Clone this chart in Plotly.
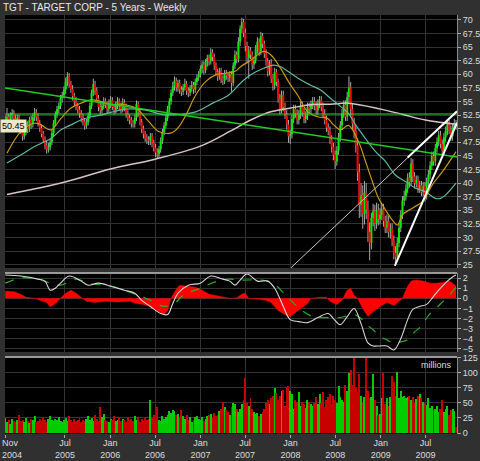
import pandas as pd
import plotly.graph_objects as go
from plotly.subplots import make_subplots

# ---------------- data ----------------
start_date = "2004-11-01"
n_weeks = 262
dates = pd.date_range(start_date, periods=n_weeks, freq="7D")

open_ = [
    51.0, 51.6, 52.2, 51.3, 52.5, 52.9, 51.8, 51.2, 52.0, 51.0,
    49.6, 48.6, 49.4, 50.6, 50.0, 51.6, 50.8, 52.1, 53.0, 52.2,
    51.0, 50.1, 49.0, 48.0, 47.0, 46.2, 46.6, 47.6, 49.2, 51.0,
    52.6, 53.6, 54.2, 55.6, 56.2, 57.2, 58.6, 59.6, 58.2, 57.3,
    56.0, 55.0, 54.2, 53.5, 52.8, 52.0, 51.3, 50.6, 51.2, 52.4,
    54.2, 56.6, 58.2, 57.0, 55.6, 54.0, 53.4, 54.2, 55.0, 54.4,
    53.6, 54.6, 55.2, 54.0, 53.4, 54.4, 55.0, 54.2, 53.6, 54.8,
    54.0, 52.8, 52.0, 51.6, 51.0, 50.9, 52.0, 54.6, 53.0, 51.2,
    50.0, 49.0, 48.4, 48.0, 47.8, 48.6, 47.4, 46.5, 45.6, 45.3,
    46.2, 47.8, 49.4, 50.6, 52.0, 53.6, 55.0, 56.6, 57.8, 58.8,
    57.6, 58.4, 57.2, 56.8, 57.6, 58.2, 57.0, 56.6, 57.4, 58.0,
    57.2, 58.6, 59.4, 60.0, 61.0, 61.8, 60.8, 62.2, 63.0, 62.4,
    64.0, 63.2, 61.6, 60.4, 59.6, 60.6, 59.2, 58.8, 60.2, 59.8,
    59.4, 60.0, 58.4, 61.6, 63.6, 62.8, 66.0, 68.4, 69.6, 67.6,
    65.2, 63.0, 64.4, 63.6, 61.8, 62.6, 64.6, 66.0, 64.2, 67.0,
    65.6, 63.8, 62.4, 60.6, 62.0, 59.2, 58.0, 60.4, 58.6, 55.6,
    53.6, 56.2, 54.0, 52.6, 50.8, 48.6, 49.0, 51.8, 53.6, 52.8,
    51.6, 52.6, 54.2, 53.0, 51.8, 52.4, 54.0, 53.6, 54.4, 55.0,
    54.2, 53.4, 54.6, 55.2, 54.0, 52.8, 51.6, 50.2, 49.6, 48.0,
    46.6, 45.2, 44.0, 46.0, 48.4, 50.6, 52.8, 54.4, 52.2, 55.8,
    57.6, 53.6, 51.0, 49.6, 47.0, 42.0, 36.0, 37.8, 34.4, 38.2,
    35.2, 31.0, 29.0, 33.6, 34.8, 32.6, 35.0, 33.4, 34.2, 35.2,
    33.0, 31.8, 33.0, 31.0, 31.6, 29.4, 27.2, 26.4, 29.0, 31.8,
    34.2, 36.8, 37.6, 39.0, 41.0, 40.2, 43.6, 41.2, 40.0, 40.6,
    39.0, 39.6, 38.4, 39.4, 37.8, 40.2, 41.6, 43.2, 45.0, 44.0,
    46.4, 47.6, 48.8, 47.2, 46.0, 48.4, 49.6, 50.8, 49.8, 48.6,
    50.2, 51.0,
]
high = [
    52.4, 53.8, 52.8, 53.0, 53.6, 53.4, 52.6, 52.6, 52.6, 51.6,
    50.2, 50.0, 51.2, 51.4, 52.2, 52.4, 52.8, 53.8, 53.6, 52.8,
    51.6, 50.8, 49.6, 48.6, 47.8, 47.4, 48.2, 49.8, 51.6, 53.2,
    54.2, 54.8, 56.2, 56.8, 57.8, 59.4, 60.4, 60.2, 58.8, 58.0,
    56.6, 55.8, 54.8, 54.2, 53.4, 52.8, 52.0, 51.8, 53.0, 54.8,
    57.2, 59.2, 58.8, 57.6, 56.2, 54.8, 55.0, 55.8, 55.6, 55.0,
    55.4, 56.0, 55.8, 54.6, 55.0, 55.8, 55.6, 54.8, 55.6, 55.4,
    54.6, 53.4, 52.6, 52.2, 51.6, 52.6, 55.2, 55.0, 53.6, 51.8,
    50.6, 49.6, 49.0, 48.6, 49.2, 49.2, 48.0, 47.2, 46.4, 46.8,
    48.4, 50.0, 51.2, 52.6, 54.2, 55.6, 57.2, 58.6, 59.6, 59.4,
    59.0, 59.0, 57.8, 58.2, 59.2, 58.8, 57.6, 58.0, 58.8, 58.6,
    59.2, 60.0, 60.6, 61.6, 62.4, 62.4, 62.8, 63.6, 63.6, 64.8,
    64.6, 63.8, 62.2, 61.0, 61.2, 61.2, 59.8, 60.8, 60.8, 60.4,
    60.6, 60.6, 62.2, 64.4, 64.2, 66.8, 69.0, 70.4, 70.2, 68.4,
    66.0, 65.2, 65.0, 64.2, 63.2, 65.4, 66.8, 66.6, 67.8, 67.6,
    66.2, 64.6, 63.0, 62.6, 62.8, 60.0, 61.2, 61.0, 59.2, 56.4,
    57.0, 57.0, 54.8, 53.4, 51.6, 49.8, 52.6, 54.4, 54.4, 53.6,
    53.4, 55.0, 55.0, 53.8, 53.2, 54.8, 54.8, 55.2, 55.8, 55.8,
    55.0, 55.4, 56.0, 56.0, 54.8, 53.6, 52.4, 51.0, 50.4, 48.8,
    47.4, 46.0, 46.8, 49.2, 51.4, 53.6, 55.2, 55.2, 56.8, 59.6,
    58.6, 54.6, 52.0, 50.6, 48.2, 43.6, 40.0, 39.6, 40.4, 40.0,
    36.8, 32.8, 34.6, 36.2, 36.0, 36.4, 36.2, 35.4, 36.4, 36.2,
    34.0, 34.2, 34.0, 32.6, 32.6, 30.4, 28.4, 30.0, 32.6, 35.0,
    37.6, 38.6, 39.8, 41.8, 42.0, 44.6, 44.4, 42.0, 41.4, 41.4,
    40.4, 40.4, 40.2, 40.2, 41.0, 42.4, 44.0, 45.8, 45.8, 47.2,
    48.4, 49.6, 49.6, 48.0, 49.2, 50.4, 51.6, 51.6, 50.6, 51.0,
    51.8, 51.6,
]
low = [
    50.4, 51.0, 50.6, 50.8, 51.8, 51.2, 50.4, 50.6, 50.2, 49.0,
    47.8, 48.0, 48.8, 49.2, 49.4, 50.0, 50.2, 51.4, 51.4, 50.4,
    49.4, 48.4, 47.4, 46.2, 45.4, 45.6, 46.0, 47.0, 48.6, 50.4,
    52.0, 52.8, 53.6, 54.8, 55.6, 56.4, 57.8, 57.6, 56.6, 55.2,
    54.2, 53.4, 52.8, 52.0, 51.2, 50.6, 49.8, 50.0, 50.6, 51.8,
    53.6, 56.0, 56.2, 55.0, 53.2, 52.6, 52.8, 53.6, 53.8, 52.8,
    53.0, 53.8, 53.4, 52.6, 52.8, 53.6, 53.4, 52.8, 53.0, 53.2,
    52.0, 51.4, 50.8, 50.2, 50.2, 50.2, 51.4, 52.2, 50.6, 49.2,
    48.2, 47.6, 47.2, 47.0, 47.0, 46.6, 45.8, 44.8, 44.6, 44.8,
    45.6, 47.2, 48.8, 50.0, 51.4, 53.0, 54.4, 56.0, 57.0, 56.8,
    56.8, 56.4, 56.0, 56.2, 57.0, 56.2, 55.8, 56.0, 56.8, 56.4,
    56.6, 58.0, 58.8, 59.4, 60.2, 60.0, 60.2, 61.4, 61.6, 61.8,
    62.4, 60.8, 59.8, 58.8, 59.0, 58.4, 58.0, 58.2, 59.0, 58.6,
    58.6, 56.8, 57.8, 61.0, 62.0, 62.2, 65.2, 67.6, 66.8, 64.2,
    62.0, 59.2, 62.8, 60.8, 61.0, 62.0, 63.8, 63.4, 63.6, 64.8,
    63.0, 61.6, 59.6, 59.8, 58.4, 57.0, 57.2, 57.8, 54.8, 52.6,
    52.8, 53.2, 51.8, 49.8, 47.4, 47.2, 48.2, 51.0, 52.0, 50.8,
    50.8, 51.8, 52.2, 51.0, 51.0, 51.6, 52.8, 52.8, 53.6, 53.4,
    52.6, 52.6, 53.8, 53.2, 52.0, 50.8, 49.4, 48.8, 47.2, 45.6,
    44.2, 42.6, 43.2, 45.2, 47.6, 49.8, 52.0, 51.4, 51.4, 54.8,
    52.4, 49.8, 48.2, 45.6, 40.4, 33.6, 33.8, 31.6, 32.4, 33.4,
    29.2, 25.8, 27.8, 32.0, 31.2, 31.6, 32.2, 32.4, 33.2, 32.0,
    30.8, 30.8, 30.0, 29.8, 28.4, 26.0, 25.0, 25.8, 28.2, 31.0,
    33.4, 35.8, 36.8, 38.2, 39.2, 39.4, 40.2, 39.0, 39.2, 38.2,
    38.2, 37.6, 37.6, 36.6, 37.0, 39.4, 40.8, 42.4, 43.2, 43.2,
    45.6, 46.8, 46.4, 45.2, 45.4, 47.6, 48.8, 49.0, 47.8, 47.8,
    49.6, 49.8,
]
close = [
    51.6, 52.2, 51.3, 52.5, 52.9, 51.8, 51.2, 52.0, 51.0, 49.6,
    48.6, 49.4, 50.6, 50.0, 51.6, 50.8, 52.1, 53.0, 52.2, 51.0,
    50.1, 49.0, 48.0, 47.0, 46.2, 46.6, 47.6, 49.2, 51.0, 52.6,
    53.6, 54.2, 55.6, 56.2, 57.2, 58.6, 59.6, 58.2, 57.3, 56.0,
    55.0, 54.2, 53.5, 52.8, 52.0, 51.3, 50.6, 51.2, 52.4, 54.2,
    56.6, 58.2, 57.0, 55.6, 54.0, 53.4, 54.2, 55.0, 54.4, 53.6,
    54.6, 55.2, 54.0, 53.4, 54.4, 55.0, 54.2, 53.6, 54.8, 54.0,
    52.8, 52.0, 51.6, 51.0, 50.9, 52.0, 54.6, 53.0, 51.2, 50.0,
    49.0, 48.4, 48.0, 47.8, 48.6, 47.4, 46.5, 45.6, 45.3, 46.2,
    47.8, 49.4, 50.6, 52.0, 53.6, 55.0, 56.6, 57.8, 58.8, 57.6,
    58.4, 57.2, 56.8, 57.6, 58.2, 57.0, 56.6, 57.4, 58.0, 57.2,
    58.6, 59.4, 60.0, 61.0, 61.8, 60.8, 62.2, 63.0, 62.4, 64.0,
    63.2, 61.6, 60.4, 59.6, 60.6, 59.2, 58.8, 60.2, 59.8, 59.4,
    60.0, 58.4, 61.6, 63.6, 62.8, 66.0, 68.4, 69.6, 67.6, 65.2,
    63.0, 64.4, 63.6, 61.8, 62.6, 64.6, 66.0, 64.2, 67.0, 65.6,
    63.8, 62.4, 60.6, 62.0, 59.2, 58.0, 60.4, 58.6, 55.6, 53.6,
    56.2, 54.0, 52.6, 50.8, 48.6, 49.0, 51.8, 53.6, 52.8, 51.6,
    52.6, 54.2, 53.0, 51.8, 52.4, 54.0, 53.6, 54.4, 55.0, 54.2,
    53.4, 54.6, 55.2, 54.0, 52.8, 51.6, 50.2, 49.6, 48.0, 46.6,
    45.2, 44.0, 46.0, 48.4, 50.6, 52.8, 54.4, 52.2, 55.8, 57.6,
    53.6, 51.0, 49.6, 47.0, 42.0, 36.0, 37.8, 34.4, 38.2, 35.2,
    31.0, 29.0, 33.6, 34.8, 32.6, 35.0, 33.4, 34.2, 35.2, 33.0,
    31.8, 33.0, 31.0, 31.6, 29.4, 27.2, 26.4, 29.0, 31.8, 34.2,
    36.8, 37.6, 39.0, 41.0, 40.2, 43.6, 41.2, 40.0, 40.6, 39.0,
    39.6, 38.4, 39.4, 37.8, 40.2, 41.6, 43.2, 45.0, 44.0, 46.4,
    47.6, 48.8, 47.2, 46.0, 48.4, 49.6, 50.8, 49.8, 48.6, 50.2,
    51.0, 50.45,
]
volume_m = [
    25, 18, 22, 15, 24, 20, 18, 22, 30, 20,
    22, 18, 25, 20, 16, 24, 22, 28, 18, 20,
    24, 20, 26, 22, 18, 24, 28, 22, 20, 24,
    22, 26, 20, 18, 22, 25, 20, 28, 22, 18,
    24, 20, 22, 26, 18, 22, 20, 24, 28, 22,
    25, 20, 30, 24, 20, 43, 26, 32, 22, 20,
    18, 24, 22, 28, 20, 22, 26, 20, 24, 22,
    18, 26, 22, 24, 20, 28, 22, 26, 18, 24,
    20, 26, 22, 24, 55, 26, 30, 24, 43, 22,
    20, 28, 24, 26, 30, 36, 34, 38, 36, 30,
    32, 26, 38, 28, 24, 30, 22, 26, 18, 22,
    26, 28, 24, 22, 26, 20, 24, 28, 30, 32,
    26, 34, 28, 30, 36, 40, 52, 44, 38, 35,
    30, 44, 50, 48, 40, 35, 40, 48, 55, 92,
    50, 45, 58, 40, 35, 32, 34, 28, 32, 35,
    40, 50, 55, 48, 58, 62, 75, 66, 55, 62,
    70, 72, 45, 75, 78, 70, 65, 40, 55, 52,
    68, 45, 52, 48, 42, 55, 52, 48, 45, 50,
    60, 48, 65, 50, 68, 44, 55, 60, 65, 48,
    62, 55, 50, 78, 60, 55, 52, 80, 70, 100,
    104, 80, 124, 75, 68, 98, 62, 50, 60, 126,
    70, 58, 60, 98, 55, 45, 30, 32, 58, 100,
    48, 58, 45, 60, 95, 85, 62, 102, 58, 70,
    60, 62, 58, 60, 62, 55, 60, 52, 56, 62,
    64, 58, 52, 50, 46, 58, 42, 45, 38, 40,
    45, 35, 40, 55, 35, 40, 45, 30, 38, 40,
    36, 10,
]

# moving averages
ma_short_dates = ["2004-11-08", "2005-01-04", "2005-02-26", "2005-03-26", "2005-05-05", "2005-06-15",
                  "2005-07-25", "2005-09-04", "2005-10-14", "2005-11-24", "2006-01-03", "2006-02-13",
                  "2006-04-14", "2006-06-06", "2006-07-16", "2006-09-03", "2006-10-01", "2006-11-03",
                  "2006-12-13", "2007-01-23", "2007-03-04", "2007-04-14", "2007-05-24", "2007-06-13",
                  "2007-07-24", "2007-09-14", "2007-10-13", "2007-11-22", "2008-01-02", "2008-01-30",
                  "2008-03-11", "2008-04-20", "2008-05-30", "2008-06-24", "2008-07-22", "2008-08-23",
                  "2008-10-03", "2008-10-31", "2008-11-28", "2008-12-23", "2009-01-20", "2009-02-17",
                  "2009-03-10", "2009-03-30", "2009-05-09", "2009-06-19", "2009-07-29", "2009-09-08",
                  "2009-11-02"]
ma_short_vals = [45.5, 49.5, 51.0, 50.7, 49.8, 51.9,
                 53.8, 54.7, 55.3, 55.0, 54.4, 54.5,
                 53.8, 51.3, 49.5, 49.2, 50.1, 52.5,
                 56.2, 58.7, 59.9, 60.2, 60.6, 61.4,
                 62.6, 64.2, 63.6, 61.1, 58.0, 56.2,
                 53.1, 52.2, 51.9, 50.7, 49.8, 50.6,
                 47.6, 44.0, 40.3, 37.2, 35.1, 33.2,
                 32.3, 34.2, 35.4, 36.6, 39.7, 42.1,
                 45.8]

ma_mid_dates = ["2004-11-08", "2005-01-04", "2005-02-26", "2005-05-05", "2005-06-15", "2005-07-25",
                "2005-09-04", "2005-10-14", "2005-11-24", "2006-01-03", "2006-03-05", "2006-05-25",
                "2006-08-02", "2006-10-05", "2006-12-13", "2007-02-20", "2007-04-26", "2007-06-13",
                "2007-07-24", "2007-09-14", "2007-10-25", "2007-11-22", "2008-01-02", "2008-02-11",
                "2008-03-23", "2008-05-02", "2008-06-11", "2008-07-22", "2008-08-23", "2008-09-21",
                "2008-10-31", "2008-12-11", "2009-01-20", "2009-03-01", "2009-04-11", "2009-05-21",
                "2009-07-01", "2009-08-10", "2009-08-31", "2009-09-20", "2009-11-02"]
ma_mid_vals = [43.7, 45.2, 46.7, 48.2, 49.8, 50.7,
               51.6, 52.2, 52.5, 53.0, 53.6, 53.4,
               52.6, 52.6, 53.1, 54.7, 56.2, 58.4,
               59.9, 61.1, 61.7, 61.4, 60.2, 59.0,
               58.0, 57.1, 55.6, 54.1, 52.8, 50.7,
               48.2, 45.8, 44.0, 41.5, 40.3, 39.1,
               38.4, 37.2, 37.2, 37.8, 40.0]

ma_long_dates = ["2004-11-08", "2005-07-01", "2006-01-01", "2006-07-01", "2007-01-01", "2007-05-04",
                 "2007-07-24", "2007-10-13", "2008-01-02", "2008-03-23", "2008-06-11", "2008-08-23",
                 "2009-01-02", "2009-04-01", "2009-07-01", "2009-11-02"]
ma_long_vals = [37.9, 40.2, 42.6, 44.4, 46.8, 49.6,
                51.6, 53.1, 53.8, 54.4, 54.5, 54.7,
                53.6, 52.6, 51.6, 50.8]

# MACD panel values (week index into dates, value)
macd_weeks = [0, 9, 19, 23, 26, 29, 32, 37, 44, 48, 54, 61, 69, 75, 79, 84, 90, 94, 97, 100,
              106, 113, 119, 126, 130, 133, 136, 140, 146, 152, 156, 161, 165, 170, 175, 181,
              187, 190, 194, 198, 202, 206, 210, 213, 217, 221, 225, 229, 233, 236, 240, 244,
              248, 252, 256, 259, 261]
macd_vals = [2.3, 2.2, 1.9, 1.7, 0.8, 1.0, 1.5, 2.2, 1.7, 1.3, 1.5, 1.2, 0.8, 0.5, -0.2, -0.8,
             -1.5, -1.6, -0.5, 0.5, 1.3, 1.5, 2.2, 1.9, 1.7, 1.3, 1.8, 2.4, 1.7, 1.7, 1.0, -0.8,
             -2.1, -2.3, -2.4, -1.9, -1.5, -2.0, -2.6, -1.8, -1.0, -2.5, -4.4, -4.7, -4.7, -4.7,
             -5.1, -4.0, -2.1, -1.1, -0.8, -0.6, 0.2, 1.0, 1.7, 2.1, 2.3]

signal_weeks = [0, 9, 19, 26, 32, 41, 48, 61, 69, 77, 84, 92, 98, 103, 113, 123, 130, 136, 148,
                155, 163, 171, 178, 187, 194, 202, 206, 210, 213, 217, 221, 225, 229, 233, 236,
                241, 245, 250, 254, 258, 261]
signal_vals = [1.5, 2.0, 1.9, 1.5, 1.3, 1.9, 1.5, 1.2, 0.8, 0.3, -0.2, -0.8, -0.5, 0.3, 1.0, 1.7,
               1.9, 1.8, 1.8, 1.5, 0.2, -1.1, -1.8, -1.9, -1.9, -1.6, -2.0, -2.7, -3.1, -3.8, -4.1,
               -4.5, -4.3, -4.1, -3.5, -2.7, -1.7, -0.9, -0.2, 0.5, 1.1]

hist_weeks = [0, 5, 9, 12, 17, 20, 24, 26, 29, 32, 35, 38, 41, 44, 47, 52, 58, 65, 72, 76, 80,
              84, 88, 92, 94, 96, 99, 101, 105, 110, 114, 118, 124, 130, 134, 137, 139, 141, 147,
              151, 154, 158, 163, 165, 168, 172, 175, 177, 182, 186, 188, 192, 195, 198, 200, 202,
              204, 207, 210, 213, 217, 221, 225, 228, 230, 233, 235, 238, 242, 246, 250, 254, 257,
              259, 261]
hist_vals = [0.7, 0.65, 0.4, 0.1, 0.0, -0.15, -0.4, -0.85, -0.5, 0.0, 0.5, 0.8, 0.5, 0.1, -0.3,
             -0.4, -0.3, -0.35, -0.3, -0.5, -0.6, -0.8, -1.2, -1.6, -1.2, 0.0, 0.9, 1.3, 1.2, 1.1,
             0.8, 0.4, 0.2, 0.0, 0.05, 0.4, 0.5, 0.0, -0.1, -0.2, -0.4, -1.2, -1.7, -1.8, -1.4,
             -0.9, -0.5, 0.0, 0.1, 0.1, -0.3, -0.6, -0.2, 0.8, 1.0, 0.3, 0.0, -1.0, -1.8, -1.3,
             -0.8, -0.4, -0.7, -0.3, 0.0, 1.2, 1.7, 1.8, 1.7, 1.5, 1.5, 1.6, 1.7, 1.5, 1.2]

# analyst trend lines (date, price)
trend_flat_dates = ["2004-10-31", "2009-11-06"]
trend_flat_vals = [52.7, 52.7]
trend_down_dates = ["2004-10-31", "2009-11-06"]
trend_down_vals = [57.5, 44.8]
trend_long_dates = ["2008-01-02", "2009-11-06"]
trend_long_vals = [24.4, 53.2]
wedge_top_dates = ["2009-04-20", "2009-11-06"]
wedge_top_vals = [44.7, 53.2]
wedge_bot_dates = ["2009-02-27", "2009-11-06"]
wedge_bot_vals = [24.8, 51.1]

tick_dates = ["2004-11-01", "2005-07-01", "2006-01-01", "2006-07-01", "2007-01-01",
              "2007-07-01", "2008-01-01", "2008-07-01", "2009-01-01", "2009-07-01"]
tick_text = ["Nov<br>2004", "Jul<br>2005", "Jan<br>2006", "Jul<br>2006", "Jan<br>2007",
             "Jul<br>2007", "Jan<br>2008", "Jul<br>2008", "Jan<br>2009", "Jul<br>2009"]

title_text = "TGT - TARGET CORP - 5 Years - Weekly"

# ---------------- figure ----------------
fig = make_subplots(rows=3, cols=1, shared_xaxes=True, vertical_spacing=0.01)

up = [c >= o for o, c in zip(open_, close)]

# wicks
wx, wy = [], []
for d, h, l in zip(dates, high, low):
    wx += [d, d, None]
    wy += [l, h, None]
fig.add_trace(go.Scatter(x=wx, y=wy, mode="lines", line=dict(color="#a8a8a8", width=1),
                         hoverinfo="skip"), row=1, col=1)

# bodies
for flag, col in [(True, "#00f000"), (False, "#ff0000")]:
    bx, by = [], []
    for d, o, c, u in zip(dates, open_, close, up):
        if u == flag:
            lo, hi = min(o, c), max(o, c)
            if hi - lo < 0.15:
                hi = lo + 0.15
            bx += [d, d, None]
            by += [lo, hi, None]
    fig.add_trace(go.Scatter(x=bx, y=by, mode="lines", line=dict(color=col, width=2),
                             hoverinfo="skip"), row=1, col=1)

# moving averages
fig.add_trace(go.Scatter(x=ma_long_dates, y=ma_long_vals, mode="lines",
                         line=dict(color="#d8c4c4", width=1.5, shape="spline")), row=1, col=1)
fig.add_trace(go.Scatter(x=ma_mid_dates, y=ma_mid_vals, mode="lines",
                         line=dict(color="#5fb8a2", width=1.2, shape="spline")), row=1, col=1)
fig.add_trace(go.Scatter(x=ma_short_dates, y=ma_short_vals, mode="lines",
                         line=dict(color="#c89a10", width=1.2, shape="spline")), row=1, col=1)

# trend lines
fig.add_trace(go.Scatter(x=trend_flat_dates, y=trend_flat_vals, mode="lines",
                         line=dict(color="#33dd33", width=1)), row=1, col=1)
fig.add_trace(go.Scatter(x=trend_down_dates, y=trend_down_vals, mode="lines",
                         line=dict(color="#22cc22", width=1.5)), row=1, col=1)
fig.add_trace(go.Scatter(x=trend_long_dates, y=trend_long_vals, mode="lines",
                         line=dict(color="#c8c8c8", width=1)), row=1, col=1)
fig.add_trace(go.Scatter(x=wedge_top_dates, y=wedge_top_vals, mode="lines",
                         line=dict(color="#ffffff", width=2)), row=1, col=1)
fig.add_trace(go.Scatter(x=wedge_bot_dates, y=wedge_bot_vals, mode="lines",
                         line=dict(color="#ffffff", width=2)), row=1, col=1)

# MACD panel
fig.add_trace(go.Scatter(x=[dates[w] for w in hist_weeks], y=hist_vals, mode="lines",
                         fill="tozeroy", fillcolor="#ff0000", line=dict(color="#ff0000", width=0.5)),
              row=2, col=1)
fig.add_trace(go.Scatter(x=[dates[w] for w in signal_weeks], y=signal_vals, mode="lines",
                         line=dict(color="#2aa82a", width=1.2, dash="dash", shape="spline")),
              row=2, col=1)
fig.add_trace(go.Scatter(x=[dates[w] for w in macd_weeks], y=macd_vals, mode="lines",
                         line=dict(color="#d8d8d8", width=1.1, shape="spline")),
              row=2, col=1)

# volume
vol_colors = ["#00cc00" if u else "#c80000" for u in up]
fig.add_trace(go.Bar(x=dates, y=volume_m, marker=dict(color=vol_colors, line=dict(width=0)),
                     width=4 * 86400000), row=3, col=1)

xrange_ = ["2004-10-31", "2009-11-06"]
grid = "#333333"
axis_font = dict(family="Liberation Sans, Arial, sans-serif", size=9, color="#dddddd")
# first label (at the very left edge) is written as an annotation so it stays inside the page
axis_tick_text = [""] + tick_text[1:]
for i in (1, 2, 3):
    fig.update_xaxes(range=xrange_, tickvals=tick_dates, ticktext=axis_tick_text, showgrid=True,
                     gridcolor=grid, gridwidth=1, zeroline=False, showline=False,
                     automargin=False, row=i, col=1)
fig.update_xaxes(ticks="outside", ticklen=3, tickcolor="#aaaaaa", tickfont=axis_font,
                 showticklabels=True, ticklabeloverflow="allow", ticklabelstandoff=-3,
                 row=3, col=1)

yaxis_common = dict(side="right", showgrid=True, gridcolor=grid, gridwidth=1, zeroline=False,
                    ticks="outside", ticklen=3, tickcolor="#aaaaaa", tickfont=axis_font,
                    showline=True, linecolor="#8a8a8a", linewidth=1, ticklabeloverflow="allow",
                    automargin=False)

fig.update_layout(
    width=480, height=461,
    margin=dict(l=5, r=23, t=15, b=27, autoexpand=False),
    paper_bgcolor="#303030", plot_bgcolor="#000000",
    showlegend=False, bargap=0,
    font=dict(family="Liberation Sans, Arial, sans-serif", size=9, color="#dddddd"),
    yaxis=dict(domain=[0.3962, 1.0], range=[24.4, 70.9], tick0=25, dtick=2.5, **yaxis_common),
    yaxis2=dict(domain=[0.1957, 0.3842], range=[-5.3, 2.5], tick0=0, dtick=1, **yaxis_common),
    yaxis3=dict(domain=[0.0, 0.1838], range=[-1.5, 126], tick0=0, dtick=25, **yaxis_common),
)

# separator lines above the lower panels
for ytop in (0.3842, 0.1838):
    fig.add_shape(type="line", xref="paper", yref="paper", x0=0, x1=1, y0=ytop, y1=ytop,
                  line=dict(color="#9a9a9a", width=2))

fig.add_annotation(text=tick_text[0], xref="paper", yref="paper", x=0, y=0, xanchor="left",
                   yanchor="top", xshift=-5, yshift=-2, showarrow=False, align="left",
                   font=axis_font)
fig.add_annotation(text=title_text, xref="paper", yref="paper", x=0, y=1, xanchor="left",
                   yanchor="bottom", xshift=-4, yshift=0, showarrow=False,
                   font=dict(family="Liberation Sans, Arial, sans-serif", size=10, color="#e8e8e8"))
fig.add_annotation(text="millions", xref="paper", yref="y3 domain", x=1, y=0.9, xanchor="right",
                   yanchor="middle", xshift=-3, showarrow=False,
                   font=dict(family="Liberation Sans, Arial, sans-serif", size=9, color="#dddddd"))
fig.add_annotation(text=f"{close[-1]:.2f}", xref="paper", yref="y", x=0, y=close[-1],
                   xanchor="left", yanchor="middle", xshift=-5, showarrow=False,
                   bgcolor="#ece8c8", borderpad=1,
                   font=dict(family="Liberation Sans, Arial, sans-serif", size=9, color="#000000"))

fig.write_html("out.html", config={"displayModeBar": False},
               post_script="document.body.style.margin='0';document.body.style.overflow='hidden';")
